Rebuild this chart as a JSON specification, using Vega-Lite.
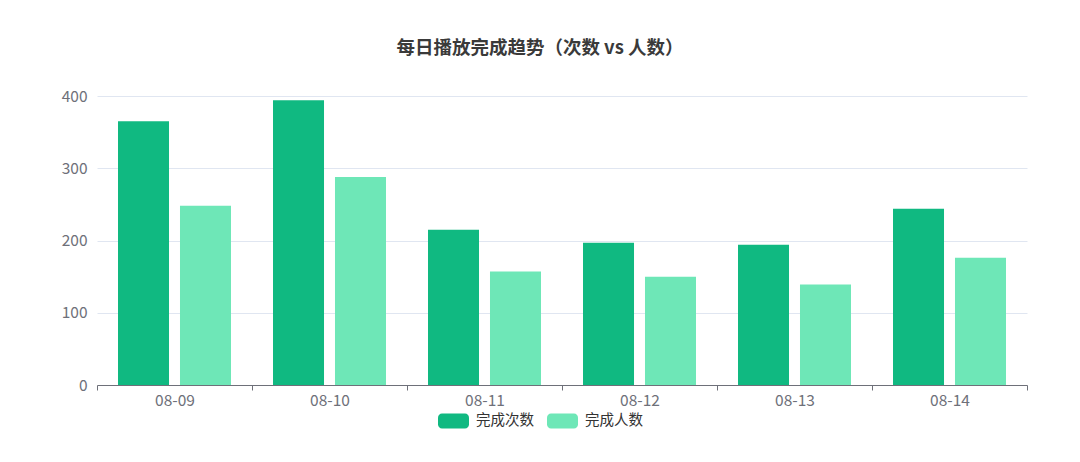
{
  "$schema": "https://vega.github.io/schema/vega-lite/v6.json",
  "width": 930,
  "height": 289,
  "autosize": {"type": "none"},
  "padding": {"left": 97, "top": 96, "right": 53, "bottom": 77},
  "background": "#ffffff",
  "title": {
    "text": "每日播放完成趋势（次数 vs 人数）",
    "font": "Noto Sans CJK SC",
    "fontSize": 18.5,
    "fontWeight": "bold",
    "color": "#3a3a3a",
    "anchor": "middle",
    "dx": -22,
    "offset": 32
  },
  "data": {
    "values": [
      {"date": "08-09", "metric": "完成次数", "value": 365},
      {"date": "08-09", "metric": "完成人数", "value": 248},
      {"date": "08-10", "metric": "完成次数", "value": 394},
      {"date": "08-10", "metric": "完成人数", "value": 288},
      {"date": "08-11", "metric": "完成次数", "value": 215},
      {"date": "08-11", "metric": "完成人数", "value": 157},
      {"date": "08-12", "metric": "完成次数", "value": 197},
      {"date": "08-12", "metric": "完成人数", "value": 150},
      {"date": "08-13", "metric": "完成次数", "value": 194},
      {"date": "08-13", "metric": "完成人数", "value": 139},
      {"date": "08-14", "metric": "完成次数", "value": 244},
      {"date": "08-14", "metric": "完成人数", "value": 176}
    ]
  },
  "mark": {"type": "bar"},
  "encoding": {
    "x": {
      "field": "date",
      "type": "nominal",
      "scale": {"paddingInner": 0, "paddingOuter": 0},
      "axis": {
        "title": null,
        "grid": false,
        "labelAngle": 0,
        "tickBand": "extent",
        "ticks": true,
        "tickSize": 5,
        "tickColor": "#6e7079",
        "domainColor": "#6e7079",
        "labelColor": "#6e7079",
        "labelFont": "Noto Sans CJK SC",
        "labelFontSize": 15.5,
        "labelPadding": 3
      }
    },
    "xOffset": {
      "field": "metric",
      "type": "nominal",
      "sort": ["完成次数", "完成人数"],
      "scale": {"paddingInner": 0.177, "paddingOuter": 0.339}
    },
    "y": {
      "field": "value",
      "type": "quantitative",
      "scale": {"domain": [0, 400]},
      "axis": {
        "title": null,
        "values": [0, 100, 200, 300, 400],
        "domain": false,
        "ticks": false,
        "grid": true,
        "gridColor": "#e0e6f1",
        "labelColor": "#6e7079",
        "labelFont": "Noto Sans CJK SC",
        "labelFontSize": 15.5,
        "labelPadding": 10
      }
    },
    "color": {
      "field": "metric",
      "type": "nominal",
      "sort": ["完成次数", "完成人数"],
      "scale": {"domain": ["完成次数", "完成人数"], "range": ["#10b981", "#6ee7b7"]},
      "legend": {
        "title": null,
        "orient": "none",
        "legendX": 341,
        "legendY": 309,
        "direction": "horizontal",
        "symbolType": "M-0.74,-0.484 H0.74 A0.26,0.26 0 0 1 1,-0.224 V0.224 A0.26,0.26 0 0 1 0.74,0.484 H-0.74 A0.26,0.26 0 0 1 -1,0.224 V-0.224 A0.26,0.26 0 0 1 -0.74,-0.484 Z",
        "symbolSize": 961,
        "symbolStrokeWidth": 0,
        "symbolOpacity": 1,
        "labelFont": "Noto Sans CJK SC",
        "labelFontSize": 14.5,
        "labelColor": "#333333",
        "labelOffset": 7,
        "columnPadding": 13
      }
    }
  },
  "config": {"view": {"stroke": null}}
}
